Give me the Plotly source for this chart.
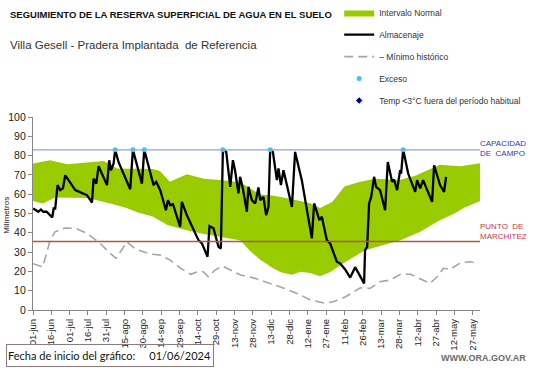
import plotly.graph_objects as go

# ---------------- DATA ----------------
tick_dias = [0, 15, 30, 45, 60, 75, 90, 105, 120, 135, 150, 165, 180, 195, 210, 225,
             240, 255, 270, 285, 300, 315, 330, 345, 360]
tick_labels = ["01-jun", "16-jun", "01-jul", "16-jul", "31-jul", "15-ago", "30-ago", "14-sep",
               "29-sep", "14-oct", "29-oct", "13-nov", "28-nov", "13-dic", "28-dic", "12-ene",
               "27-ene", "11-feb", "26-feb", "13-mar", "28-mar", "12-abr", "27-abr", "12-may",
               "27-may"]

# Intervalo normal (límites superior e inferior)
sup_dia = [0, 14, 28, 49, 58, 69, 98, 104, 112, 126, 140, 153, 170, 178, 186, 194, 203, 215,
           227, 235, 245, 255, 268, 280, 300, 313, 325, 333, 350, 366]
sup_val = [75.9, 77.6, 75.5, 76.5, 77.2, 73.3, 73, 72, 66.4, 70.4, 68, 67.3, 66, 63, 59.8, 59.5,
           58.6, 57, 55.3, 52.8, 56, 64, 66.5, 68, 67.3, 69.5, 73, 75.2, 74.5, 76]
inf_dia = [0, 8, 18, 45, 64, 76, 86, 98, 110, 125, 138, 155, 170, 178, 186, 197, 203, 212, 219,
           227, 235, 243, 250, 256, 272, 284, 292, 301, 317, 333, 345, 353, 366]
inf_val = [56.5, 55.2, 58.3, 58, 55, 53, 50.5, 48.5, 44, 41.4, 39.7, 37.9, 36, 30.5, 26, 21.5,
           19.5, 18.3, 19.8, 19.2, 17.5, 19.5, 22.5, 25, 31, 33, 34.5, 36.2, 40.5, 46.5, 50, 53, 56.5]

# Almacenaje
alm_dia = [0.2, 2.9, 4.3, 6.5, 8.4, 11.1, 12.5, 15.8, 16.9, 18.2,
           20.1, 22.3, 24.5, 26.4, 29.1, 34.6, 44.2, 48.3, 49.6, 51.8,
           53.7, 60.6, 62.4, 63.8, 66, 67.3, 70, 74.1, 79.6, 81.8,
           85.1, 89.2, 91.1, 94.6, 98.7, 100.9, 104.2, 108.8, 110.5, 112.4,
           114.6, 120.5, 121.9, 126, 135.5, 138.3, 142.9, 144.5, 147.8, 151.9,
           153.8, 155.5, 158.2, 161.5, 163.7, 165.5, 168.2, 169.6, 171.8, 175.1,
           176.4, 179.2, 181.9, 184.6, 186, 188.7, 190.9, 192.8, 194.2, 196.4,
           199.7, 201, 203, 205.1, 207.3, 212, 214.6, 220.1, 228.3, 230.2,
           234.5, 236.5, 240.6, 243.3, 248.8, 251.5, 255.6, 259.7, 263.8, 271.1,
           271.9, 273.6, 275.2, 276.9, 279.3, 280.9, 284.2, 288.3, 290.5,
           294, 295.6, 298.1, 300.6, 301.4, 303.1, 304.7, 307.2, 312.9, 314.5,
           317, 319.4, 326.8, 328.4, 333.3, 336.6, 338.2]
alm_val = [52.6, 51.4, 50.9, 52.1, 50.9, 50.9, 50, 48, 52.6, 52.6,
           64.7, 62.1, 63, 69.8, 67.3, 62.1, 59.5, 55.7, 68.1, 65.5,
           74.5, 64.7, 77.6, 72.4, 75.9, 83, 76.7, 70.7, 62.6, 83,
           75, 65.5, 83, 74.1, 64.7, 66.4, 62.1, 51.7, 56.9, 54.3,
           54.8, 43.1, 56, 49.1, 36.2, 34.5, 27.6, 43.5, 42.3, 32.7,
           31.9, 83, 81.9, 63.8, 77.6, 72.1, 60.4, 69, 63, 50.9,
           63.8, 56.9, 55.2, 63.5, 56.9, 58.6, 49.1, 53.4, 83, 81.9,
           67.3, 73.3, 64.7, 72.4, 66.4, 53.4, 81.9, 67.3, 37.1, 55.2,
           46.6, 48.3, 36.2, 34.5, 25, 24.1, 21, 16.8, 22.2, 13.8,
           31, 32.7, 55.2, 58.6, 69, 63.8, 62.1, 51.7, 76.7,
           66.4, 67.6, 62.1, 72.4, 70.7, 83, 78.5, 70.7, 61.2, 67.3,
           63, 67.3, 56, 75, 64.7, 61.2, 69]

# Mínimo histórico
min_dia = [0, 8, 14, 18, 26, 35, 44, 55, 63, 68, 77, 84, 96, 104, 112, 121, 129, 134.5, 139.5,
           143.5, 149, 155, 161.5, 170, 182, 194, 206, 219, 227, 239, 247, 256, 268, 276, 284,
           292, 301, 309, 317, 325, 331, 336, 341.5, 350, 358, 365]
min_val = [24, 22.4, 36, 40.5, 42.5, 42.3, 39.8, 34.5, 29.5, 26.8, 35.3, 31.5, 29, 28.5, 26, 21.6,
           18.5, 19.8, 19.8, 17.2, 20.7, 22.8, 20.7, 18.1, 16.4, 13.8, 11.2, 7.8, 5.2, 3.5, 4.5,
           6.9, 11.5, 11.2, 14.6, 15.5, 18.5, 18.5, 16, 13.8, 17.2, 21.6, 21, 24.5, 25, 24.1]

# Exceso
exc_dia = [67.3, 81.8, 91.1, 155.5, 194.2, 303.1]
exc_val = [83, 83, 83, 83, 83, 83]

capacidad_campo = 83
punto_marchitez = 35.5

# ---------------- STYLE ----------------
GREEN = "#99CC00"
FONT = "Liberation Sans, Arial, sans-serif"

fig = go.Figure()
fig.add_trace(go.Scatter(x=inf_dia, y=inf_val, mode="lines", line=dict(width=0, color=GREEN),
                         showlegend=False, hoverinfo="skip", legendgroup="g1"))
fig.add_trace(go.Scatter(x=sup_dia, y=sup_val, mode="lines", line=dict(width=0, color=GREEN),
                         fill="tonexty", fillcolor=GREEN, name="Intervalo Normal",
                         legendgroup="g1", legendrank=1))
fig.add_trace(go.Scatter(x=min_dia, y=min_val, mode="lines",
                         line=dict(color="#A6A6A6", width=1.6, dash="9px,5px"),
                         name="– Mínimo histórico", legendgroup="g3", legendrank=3))
fig.add_trace(go.Scatter(x=alm_dia, y=alm_val, mode="lines",
                         line=dict(color="black", width=2.3), name="Almacenaje",
                         legendgroup="g2", legendrank=2))
fig.add_trace(go.Scatter(x=exc_dia, y=exc_val, mode="markers",
                         marker=dict(color="#3FC6EA", size=5), name="Exceso",
                         legendgroup="g4", legendrank=4))
fig.add_trace(go.Scatter(x=[None], y=[None], mode="markers",
                         marker=dict(color="#000099", size=5, symbol="diamond"),
                         name="Temp <3°C fuera del período habitual",
                         legendgroup="g5", legendrank=5))

fig.add_shape(type="line", xref="paper", x0=0, x1=1, yref="y", y0=capacidad_campo,
              y1=capacidad_campo, line=dict(color="#8EA6D6", width=1.3), layer="above")
fig.add_shape(type="line", xref="paper", x0=0, x1=1, yref="y", y0=punto_marchitez,
              y1=punto_marchitez, line=dict(color="#B8524E", width=1.3), layer="above")

annots = [
    dict(text="<b>SEGUIMIENTO DE LA RESERVA SUPERFICIAL DE AGUA EN EL SUELO</b>",
         x=-0.0552, y=1.531, xanchor="left", yanchor="middle",
         font=dict(size=9.5, color="#111", family=FONT)),
    dict(text="Villa Gesell - Pradera Implantada  de Referencia",
         x=-0.0552, y=1.371, xanchor="left", yanchor="middle",
         font=dict(size=11.5, color="#333", family=FONT)),
    dict(text="CAPACIDAD<br>DE  CAMPO", x=0.995, y=0.8355, xanchor="left", yanchor="middle",
         align="left", font=dict(size=8, color="#3838A8", family=FONT)),
    dict(text="PUNTO  DE<br>MARCHITEZ", x=0.995, y=0.4087, xanchor="left", yanchor="middle",
         align="left", font=dict(size=8, color="#C8383C", family=FONT)),
    dict(text="Milímetros", x=-0.0597, y=0.49, textangle=-90, xanchor="center", yanchor="middle",
         font=dict(size=8, color="#222", family=FONT)),
    dict(text="Fecha de inicio del gráfico:&nbsp;&nbsp;&nbsp;&nbsp;&nbsp;01/06/2024",
         x=-0.0597, y=-0.238, xanchor="left", yanchor="middle", align="left",
         width=204, height=19, bordercolor="#8C7C7C", borderwidth=1, borderpad=1,
         font=dict(size=11, color="#111", family="Lato, Open Sans, sans-serif")),
    dict(text="<b>WWW.ORA.GOV.AR</b>", x=1.1073, y=-0.248, xanchor="right", yanchor="middle",
         font=dict(size=9, color="#6B6B6B", family=FONT)),
]
for a in annots:
    a.update(xref="paper", yref="paper", showarrow=False)
    fig.add_annotation(**a)

fig.update_layout(
    width=541, height=368,
    margin=dict(l=33, r=61, t=117, b=58, autoexpand=False),
    paper_bgcolor="white", plot_bgcolor="white",
    font=dict(family=FONT, color="#222"),
    legend=dict(x=0.685, y=1.616, xanchor="left", yanchor="top", traceorder="grouped",
                font=dict(size=8.5, color="#333", family=FONT),
                bgcolor="rgba(0,0,0,0)", tracegroupgap=3, itemwidth=30),
    xaxis=dict(range=[0, 366], tickvals=tick_dias, ticktext=tick_labels, tickangle=-90,
               ticks="outside", ticklen=4, tickcolor="#868686", showline=True,
               linecolor="#868686", linewidth=1.3, showgrid=False, zeroline=False,
               automargin=False,
               tickfont=dict(size=9.5, color="#222", family=FONT)),
    yaxis=dict(range=[0, 100], dtick=10, ticks="outside", ticklen=4, tickcolor="#868686",
               showline=True, linecolor="#868686", linewidth=1.3, showgrid=False,
               zeroline=False, automargin=False,
               tickfont=dict(size=10.5, color="#222", family=FONT)),
)

fig.write_html("out.html", config={"displayModeBar": False},
               post_script="document.body.style.margin='0';document.body.style.overflow='hidden';")
